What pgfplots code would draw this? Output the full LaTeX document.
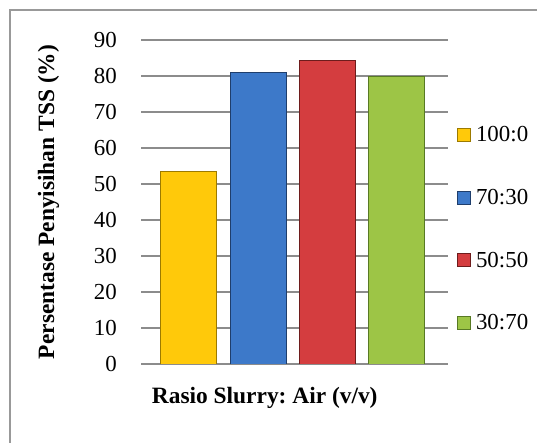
\documentclass[border=0pt]{standalone}
\usepackage{pgfplots}
\pgfplotsset{compat=1.18}
\usepackage{fontspec}
\setmainfont{Liberation Serif}
\frenchspacing
\definecolor{cyel}{HTML}{FFC90A}
\definecolor{cyeld}{HTML}{9C7A00}
\definecolor{cblu}{HTML}{3D79C9}
\definecolor{cblud}{HTML}{1F3E6C}
\definecolor{cred}{HTML}{D43D3F}
\definecolor{credd}{HTML}{6E1C1C}
\definecolor{cgrn}{HTML}{9DC546}
\definecolor{cgrnd}{HTML}{587A24}
\begin{document}
\begin{tikzpicture}[x=1bp,y=1bp]
\useasboundingbox (0,0) rectangle (537,443);
\draw[black!40, line width=2bp] (10,-10) rectangle (547,433);
\begin{axis}[at={(141bp,79bp)}, anchor=south west, scale only axis,
  width=307bp, height=324bp,
  ymin=0, ymax=90, ytick={0,10,...,90},
  xmin=-0.69, xmax=3.74, xtick=\empty,
  axis line style={draw=none}, major tick length=0pt,
  ymajorgrids, grid style={black!45, line width=1.3bp},
  yticklabel style={font=\fontsize{23}{26}\selectfont, anchor=east, inner sep=0pt, xshift=-24bp},
  /pgf/number format/assume math mode=true,
  ylabel={\textbf{Persentase Penyisihan TSS (\%)}},
  ylabel style={at={(axis description cs:-0.301,0.5)}, anchor=center, rotate=0, font=\fontsize{23.5}{26}\selectfont},
  xlabel={\textbf{Rasio Slurry: Air (v/v)}},
  xlabel style={at={(axis description cs:0.403,-0.105)}, anchor=center, font=\fontsize{23.5}{26}\selectfont},
  ybar, bar width=56bp, bar shift=0pt,
  legend style={at={(axis description cs:1.03,0.74)}, anchor=north west, draw=none, fill=none,
    font=\fontsize{23}{26}\selectfont, row sep=42bp, inner sep=0pt,
    /tikz/every odd column/.append style={column sep=3bp}},
  legend cell align=left,
  legend image code/.code={\draw[#1, line width=0.6bp] (0bp,-6.5bp) rectangle (13bp,6.5bp);},
]
\addplot[fill=cyel, draw=cyeld, line width=0.8bp] coordinates {(0,53.6)};
\addplot[fill=cblu, draw=cblud, line width=0.8bp] coordinates {(1,81.1)};
\addplot[fill=cred, draw=credd, line width=0.8bp] coordinates {(2,84.2)};
\addplot[fill=cgrn, draw=cgrnd, line width=0.8bp] coordinates {(3,80.0)};
\legend{100:0,70:30,50:50,30:70}
\end{axis}
\end{tikzpicture}
\end{document}
